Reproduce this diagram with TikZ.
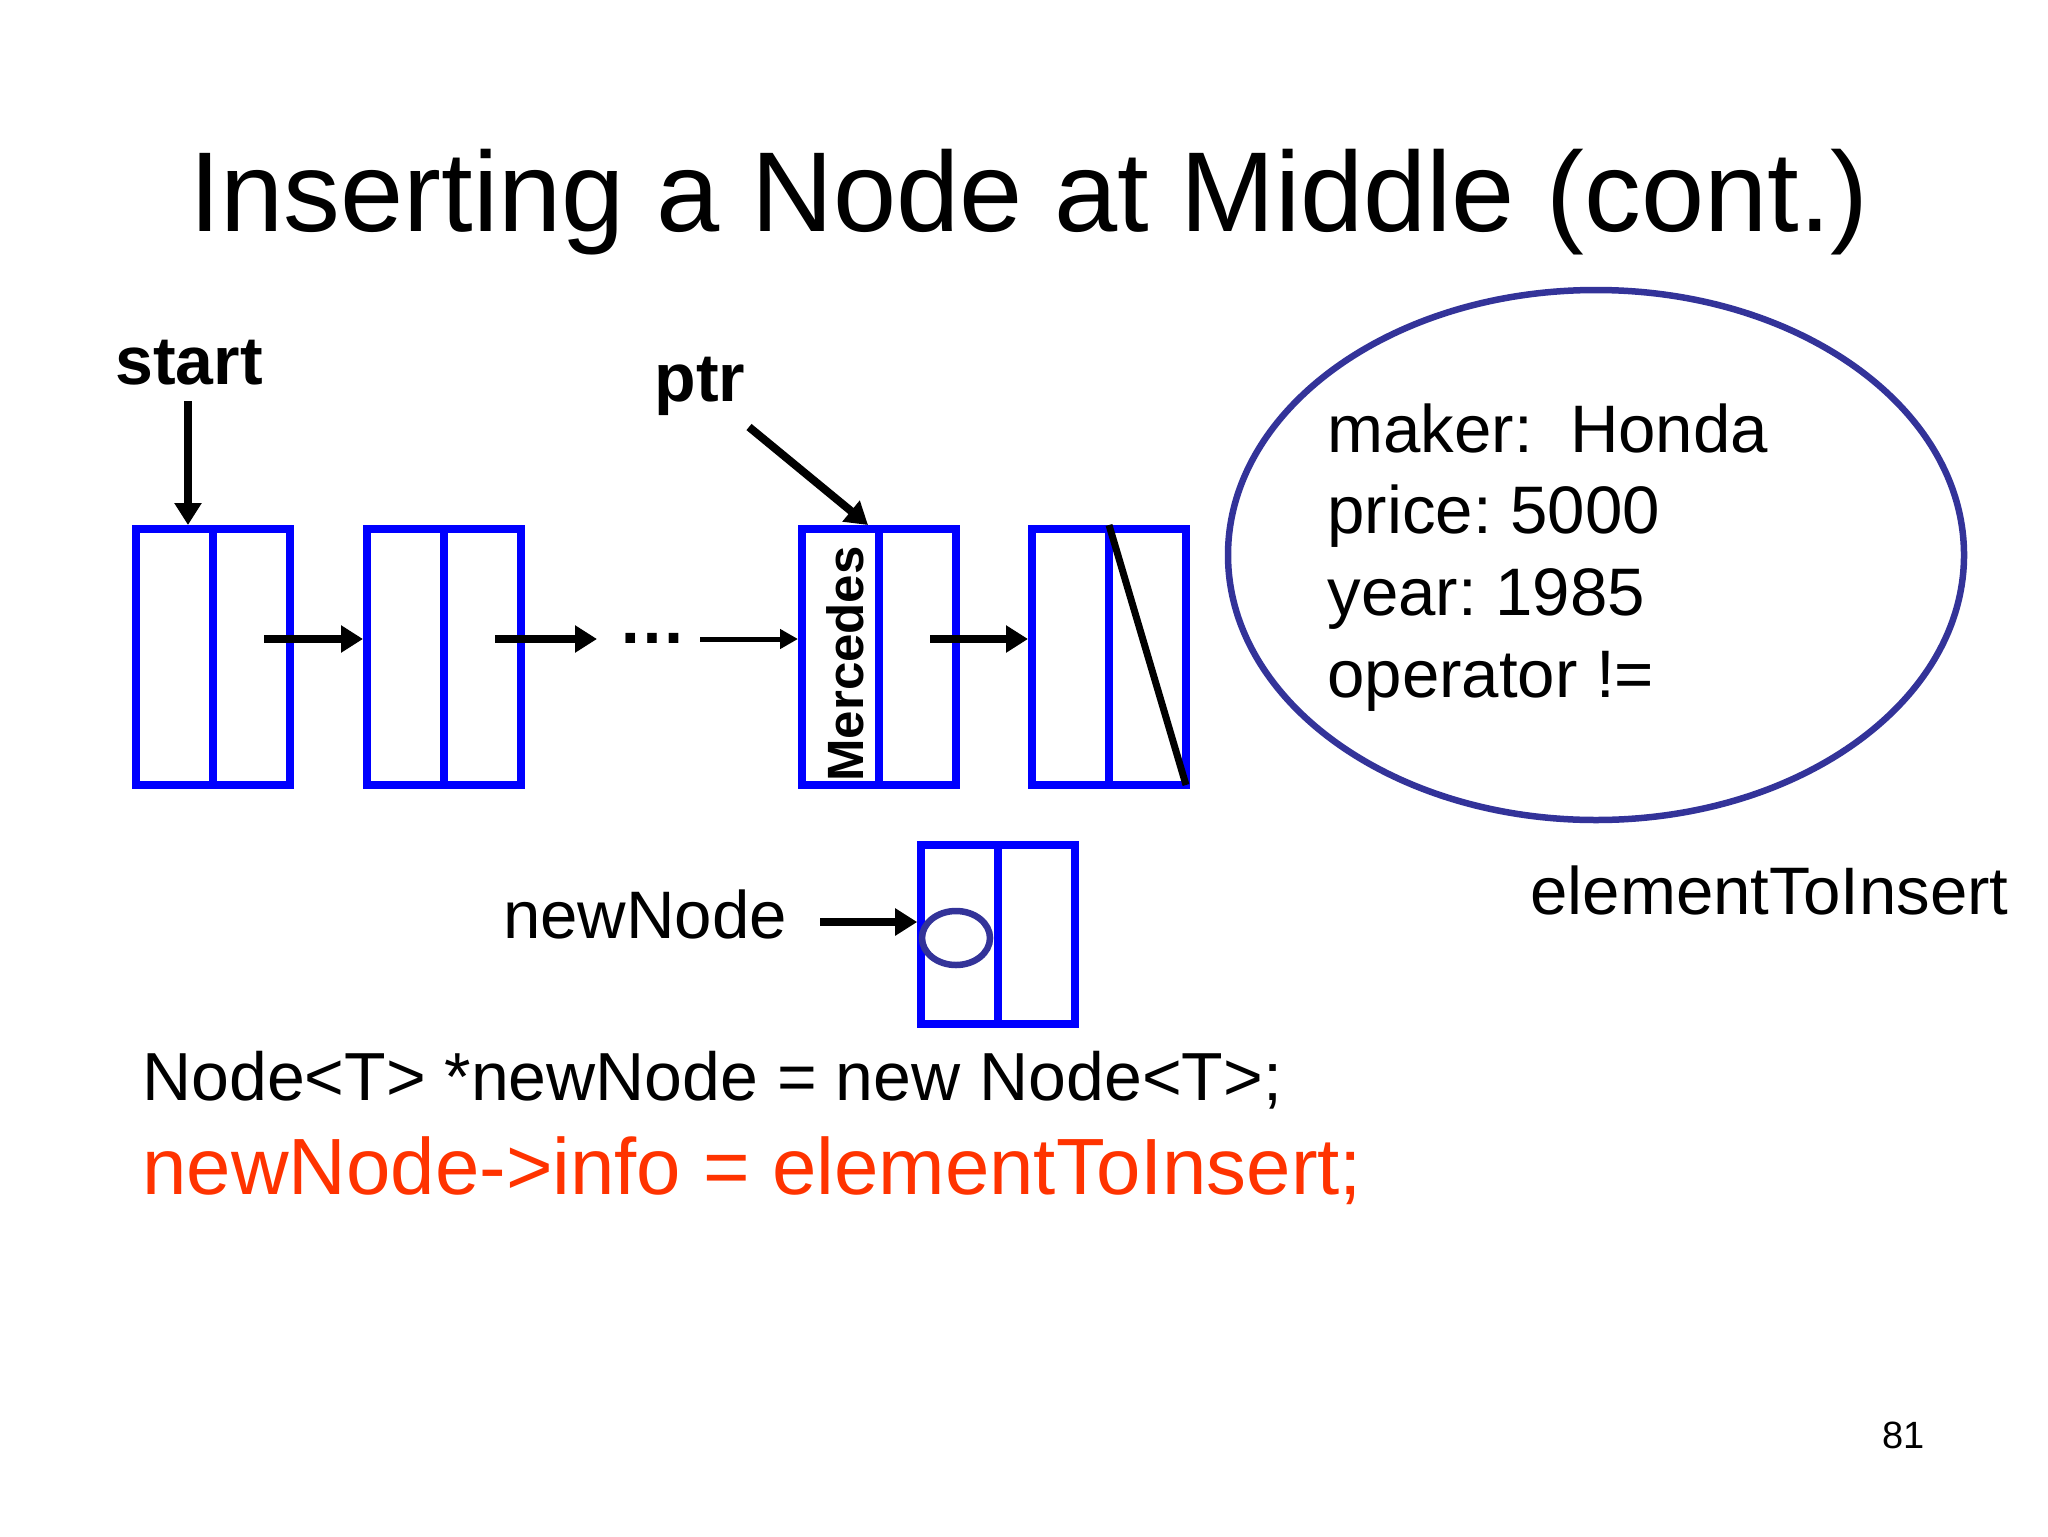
\documentclass[tikz,border=0pt]{standalone}
\usepackage{fontspec}
\setmainfont{Liberation Sans}
\usetikzlibrary{arrows.meta,shapes.geometric}
\definecolor{boxblue}{RGB}{0,0,255}
\definecolor{navy}{RGB}{51,51,153}
\definecolor{codered}{RGB}{255,51,0}
\frenchspacing
\begin{document}
\begin{tikzpicture}[x=0.5pt,y=-0.5pt,
  cell/.style={draw=boxblue,line width=4pt,minimum width=77pt,minimum height=128pt,inner sep=0pt},
  divider/.style={draw=boxblue,line width=4pt},
  thickarrow/.style={line width=4pt,-{Triangle[length=11pt,width=13pt]}},
  thinarrow/.style={line width=2.5pt,-{Triangle[length=9pt,width=9.5pt]}},
  body/.style={inner sep=0pt,anchor=base west,font=\fontsize{33.6pt}{40pt}\selectfont},
  boldlbl/.style={inner sep=0pt,anchor=base,font=\bfseries\fontsize{34pt}{40pt}\selectfont},
  ring/.style={draw=navy,ellipse,inner sep=0pt}
]
\useasboundingbox[fill=white] (0,0) rectangle (2048,1536);

% title
\node[inner sep=0pt,anchor=base,font=\fontsize{56.8pt}{66pt}\selectfont] (title) at (1029,231.7) {Inserting a Node at Middle (cont.)};

% list boxes
\node[cell] (b1) at (213.25,657) {};
\node[cell] (b2) at (444,657) {};
\node[cell] (b3) at (879,657) {};
\node[cell] (b4) at (1109,657) {};
\foreach \b in {b1,b2,b3,b4} {\draw[divider] (\b.north) -- (\b.south);}
\draw[line width=3.5pt] (b4.north) -- ([xshift=-2pt,yshift=2pt]b4.south east);

% Mercedes
\node[rotate=90,anchor=base,inner sep=0pt,font=\bfseries\fontsize{25.5pt}{30pt}\selectfont] (merc) at (863,664) {Mercedes};

% labels
\node[boldlbl] (start) at (189,384) {start};
\node[boldlbl] (ptr) at (700,401.5) {ptr};
\coordinate (s0) at (188,401);
\draw[thickarrow] (s0) -- (s0 |- b1.north);
\coordinate (p0) at (749,427);
\draw[thickarrow] (p0) -- ([xshift=-5.5pt]b3.north);

% next arrows
\coordinate (a1) at (264,639);
\draw[thickarrow] (a1) -- (a1 -| b2.west);
\coordinate (a2) at (495,639);
\coordinate (a2e) at (597,639);
\draw[thickarrow] (a2) -- (a2e);
\node[inner sep=0pt,anchor=base,font=\bfseries\fontsize{34pt}{40pt}\selectfont] (dots) at (652,643) {…};
\coordinate (a3) at (700,639);
\draw[thinarrow] (a3) -- (a3 -| b3.west);
\coordinate (a4) at (930,639);
\draw[thickarrow] (a4) -- (a4 -| b4.west);

% element ellipse
\node[ring,line width=3.25pt,minimum width=368pt,minimum height=265pt] (info) at (1596,555) {};
\node[body] (m1) at (1327,452) {maker:~~Honda};
\node[body] (m2) at (1327,533) {price: 5000};
\node[body] (m3) at (1327,615) {year: 1985};
\node[body] (m4) at (1327,697) {operator !=};
\node[body] (eti) at (1530,914) {elementToInsert};

% new node
\node[body] (nnl) at (502.7,938.3) {newNode};
\node[cell,minimum height=89.5pt] (nb) at (998.2,934.4) {};
\draw[divider] (nb.north) -- (nb.south);
\node[ring,line width=3.25pt,minimum width=34pt,minimum height=27pt] (circ) at (956,938) {};
\coordinate (n0) at (820,922);
\draw[thickarrow] (n0) -- (n0 -| nb.west);

% code
\node[inner sep=0pt,anchor=base west,font=\fontsize{34pt}{40pt}\selectfont] (code1) at (142,1100) {Node<T> *newNode = new Node<T>;};
\node[inner sep=0pt,anchor=base west,text=codered,font=\fontsize{39.9pt}{46pt}\selectfont] (code2) at (142,1194) {newNode->info = elementToInsert;};

% page number
\node[inner sep=0pt,anchor=base west,font=\fontsize{19pt}{23pt}\selectfont] (pg) at (1882,1448) {81};
\end{tikzpicture}
\end{document}
